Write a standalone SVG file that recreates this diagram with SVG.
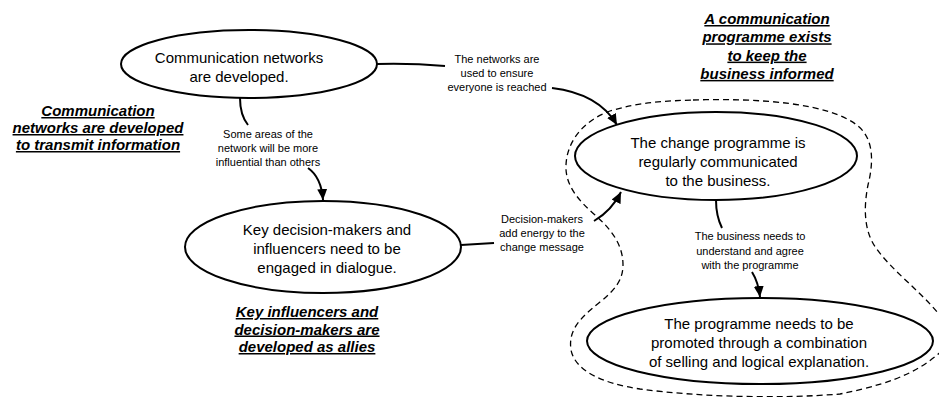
<svg xmlns="http://www.w3.org/2000/svg" width="939" height="397" viewBox="0 0 939 397">
  <defs>
    <marker id="arrow" markerUnits="userSpaceOnUse" markerWidth="12" markerHeight="10" refX="11" refY="5" orient="auto">
      <path d="M0,0 L11,5 L0,10 z" fill="#000"/>
    </marker>
    <style>
      .node ellipse { fill: #fff; stroke: #000; stroke-width: 2; }
      .node text { font-family: "Liberation Sans", Arial, sans-serif; font-size: 15px; fill: #000; text-anchor: middle; }
      .label { font-family: "Liberation Sans", Arial, sans-serif; font-size: 11px; fill: #000; text-anchor: middle; }
      .title { font-family: "Liberation Sans", Arial, sans-serif; font-size: 15px; font-weight: bold; font-style: italic; fill: #000; text-anchor: middle; text-decoration: underline; }
      .edge { fill: none; stroke: #000; stroke-width: 2; }
      .boundary { fill: none; stroke: #000; stroke-width: 1.3; stroke-dasharray: 6 4; }
    </style>
  </defs>

  <rect width="939" height="397" fill="#fff"/>

  <!-- dashed grouping round the programme nodes -->
  <path class="boundary" d="M693,100 C760,98 830,103 858,126 C875,140 873,165 868,185 C864,205 863,230 876,248 C893,272 922,292 942,318 L948,345 C925,368 900,382 840,394 C780,399 700,397 640,389 C600,383 575,370 571,350 C568,330 580,318 600,302 C615,290 623,280 623,265 C623,245 612,230 595,215 C578,200 565,185 566,165 C567,140 585,120 610,111 C640,102 665,101 693,100 Z"/>

  <!-- connectors -->
  <g id="connectors">
    <path class="edge" d="M377,64 Q410,63 445,66"/>
    <path class="edge" d="M552,88 C585,92 606,106 617,125" marker-end="url(#arrow)"/>
    <path class="edge" d="M240,98 C240,110 244,120 248,125"/>
    <path class="edge" d="M308,168 C318,175 322,186 323,200" marker-end="url(#arrow)"/>
    <path class="edge" d="M461,245 L494,243"/>
    <path class="edge" d="M594,221 C606,214 615,204 621,192" marker-end="url(#arrow)"/>
    <path class="edge" d="M716,200 C716,212 719,222 722,228"/>
    <path class="edge" d="M752,272 C757,280 759,288 760,297" marker-end="url(#arrow)"/>
  </g>

  <!-- connector labels -->
  <g id="connector-labels">
    <text class="label" x="497" y="63">The networks are<tspan x="497" dy="14">used to ensure</tspan><tspan x="497" dy="14">everyone is reached</tspan></text>
    <text class="label" x="268" y="138">Some areas of the<tspan x="268" dy="14">network will be more</tspan><tspan x="268" dy="14">influential than others</tspan></text>
    <text class="label" x="542" y="223">Decision-makers<tspan x="542" dy="14">add energy to the</tspan><tspan x="542" dy="14">change message</tspan></text>
    <text class="label" x="750" y="240">The business needs to<tspan x="750" dy="14.5">understand and agree</tspan><tspan x="750" dy="14.5">with the programme</tspan></text>
  </g>

  <g id="node-networks" class="node">
    <ellipse cx="249" cy="64" rx="128" ry="34"/>
    <text x="239" y="63">Communication networks<tspan x="239" dy="19">are developed.</tspan></text>
  </g>

  <g id="node-influencers" class="node">
    <ellipse cx="323" cy="247" rx="138" ry="46"/>
    <text x="327" y="235">Key decision-makers and<tspan x="327" dy="19">influencers need to be</tspan><tspan x="327" dy="19">engaged in dialogue.</tspan></text>
  </g>

  <g id="node-communicated" class="node">
    <ellipse cx="716" cy="156" rx="141" ry="44"/>
    <text x="718" y="148">The change programme is<tspan x="718" dy="19">regularly communicated</tspan><tspan x="718" dy="19">to the business.</tspan></text>
  </g>

  <g id="node-promoted" class="node">
    <ellipse cx="760" cy="341" rx="173" ry="43"/>
    <text x="759" y="329">The programme needs to be<tspan x="759" dy="19">promoted through a combination</tspan><tspan x="759" dy="19">of selling and logical explanation.</tspan></text>
  </g>

  <!-- headings -->
  <g id="headings">
    <text class="title" x="767" y="24">A communication<tspan x="767" dy="18.3">programme exists</tspan><tspan x="767" dy="18.3">to keep the</tspan><tspan x="767" dy="18.3">business informed</tspan></text>
    <text class="title" x="98" y="116">Communication<tspan x="98" dy="17">networks are developed</tspan><tspan x="98" dy="17">to transmit information</tspan></text>
    <text class="title" x="307" y="317">Key influencers and<tspan x="307" dy="17.5">decision-makers are</tspan><tspan x="307" dy="17.5">developed as allies</tspan></text>
  </g>
</svg>
